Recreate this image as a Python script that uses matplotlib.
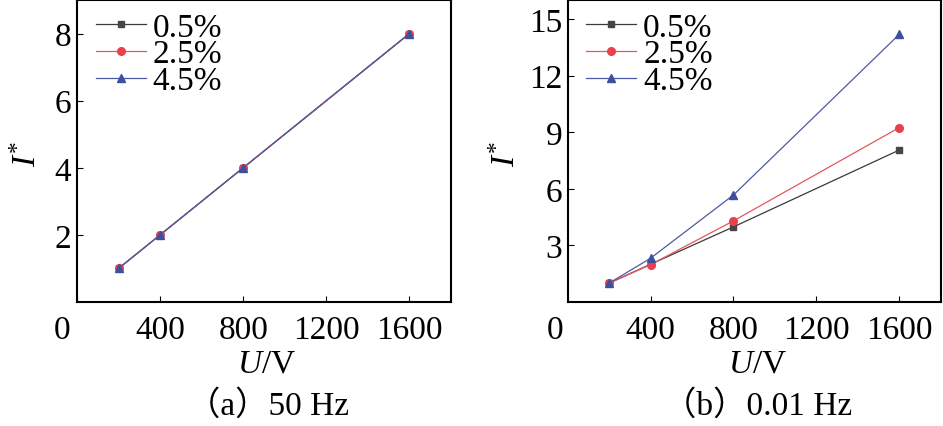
import matplotlib
matplotlib.use("Agg")
import matplotlib.pyplot as plt
from matplotlib.transforms import ScaledTranslation

plt.rcParams['font.family'] = ['Liberation Serif', 'Noto Sans CJK SC']
plt.rcParams['mathtext.fontset'] = 'custom'
plt.rcParams['mathtext.rm'] = 'Liberation Serif'
plt.rcParams['mathtext.it'] = 'Liberation Serif:italic'

# ---- data ----
voltage = [200, 400, 800, 1600]
series_labels = ["0.5%", "2.5%", "4.5%"]
a_05 = [1.0, 2.0, 4.0, 8.0]
a_25 = [1.0, 2.0, 4.0, 8.0]
a_45 = [1.0, 2.0, 4.0, 8.0]
b_05 = [1.0, 2.0, 3.98, 8.05]
b_25 = [1.0, 1.98, 4.3, 9.24]
b_45 = [1.0, 2.32, 5.67, 14.18]
x_ticks = [0, 400, 800, 1200, 1600]
a_yticks = [2, 4, 6, 8]
b_yticks = [3, 6, 9, 12, 15]
captions = ["（a）50 Hz", "（b）0.01 Hz"]

colors = ["#454545", "#e8414b", "#3d4f9f"]
line_colors = ["#3a3a3a", "#e8555e", "#4a5aa5"]
markers = ["s", "o", "^"]
msizes = [4.5, 5.5, 5.5]

W, H = 943, 427
fig = plt.figure(figsize=(W / 100, H / 100), dpi=100)

def px_axes(x0, x1, y0, y1):
    return fig.add_axes([x0 / W, 1 - y1 / H, (x1 - x0) / W, (y1 - y0) / H])

axA = px_axes(77, 451, 1, 303)
axB = px_axes(567.7, 940.7, 1, 303)

panels = [
    (axA, [a_05, a_25, a_45], (0, 9), a_yticks, -15),
    (axB, [b_05, b_25, b_45], (0, 16), b_yticks, -13),
]

FS = 24
for ax, data, ylim, yticks, zero_off in panels:
    for vals, lab, c, lc, m, ms in zip(data, series_labels, colors, line_colors, markers, msizes):
        ax.plot(voltage, vals, color=lc, lw=0.9, marker=m, markersize=ms,
                markerfacecolor=c, markeredgecolor=c, label=lab)
    ax.set_xlim(0, 1800)
    ax.set_ylim(*ylim)
    ax.set_xticks(x_ticks)
    ax.set_xticklabels([str(v) for v in x_ticks])
    ax.set_yticks(yticks)
    for s in ax.spines.values():
        s.set_linewidth(1.5)
    ax.tick_params(direction='in', length=4.5, width=0.8, labelsize=FS,
                   top=False, right=False)
    ax.tick_params(axis='x', pad=9)
    ax.tick_params(axis='y', pad=4)
    lbl0 = ax.get_xticklabels()[0]
    lbl0.set_transform(lbl0.get_transform() + ScaledTranslation(zero_off / 100, 0, fig.dpi_scale_trans))
    ax.legend(loc='upper left', bbox_to_anchor=(0.05, 0.96), frameon=False,
              fontsize=FS, handlelength=1.5, handletextpad=0.2,
              labelspacing=-0.11, borderpad=0, borderaxespad=0)

fs_lab = 24
fig.text(27.5 / W, 1 - 154 / H, r"$I^{*}$", rotation=90, ha='center', va='center', fontsize=fs_lab)
fig.text(507 / W, 1 - 154 / H, r"$I^{*}$", rotation=90, ha='center', va='center', fontsize=fs_lab)
fig.text(267 / W, 1 - 364 / H, r"$U$/V", ha='center', va='center', fontsize=fs_lab)
fig.text(758 / W, 1 - 364 / H, r"$U$/V", ha='center', va='center', fontsize=fs_lab)
fig.text(268 / W, 1 - 406 / H, captions[0], ha='center', va='center', fontsize=24)
fig.text(758 / W, 1 - 406 / H, captions[1], ha='center', va='center', fontsize=24)

fig.savefig("out.png", dpi=100)
